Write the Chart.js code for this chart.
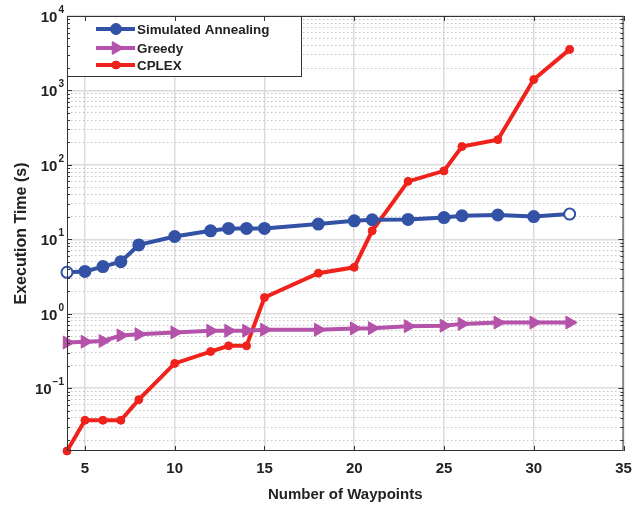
<!DOCTYPE html>
<html>
<head>
<meta charset="utf-8">
<script src="https://cdn.jsdelivr.net/npm/chart.js@4.4.1/dist/chart.umd.min.js"></script>
<style>
  html, body { margin: 0; padding: 0; background: #fff; }
  #wrap { width: 632px; height: 508px; }
</style>
</head>
<body>
<div id="wrap"><canvas id="lineChart" width="632" height="508"></canvas></div>
<script>
'use strict';

// waypoints on the x axis
const waypoints = [4, 5, 6, 7, 8, 10, 12, 13, 14, 15, 18, 20, 21, 23, 25, 26, 28, 30, 32];

// execution time (s)
const saTimes     = [3.6, 3.7, 4.3, 5.0, 8.4, 10.9, 13, 14, 14, 14, 16, 17.7, 18.3, 18.5, 19.6, 20.7, 21.2, 20.2, 21.8];
const greedyTimes = [0.41, 0.42, 0.43, 0.51, 0.53, 0.56, 0.59, 0.59, 0.59, 0.61, 0.61, 0.635, 0.64, 0.68, 0.69, 0.73, 0.76, 0.76, 0.76];
const cplexTimes  = [0.0143, 0.037, 0.037, 0.037, 0.070, 0.215, 0.31, 0.37, 0.37, 1.65, 3.5, 4.2, 13, 60, 83, 176, 218, 1400, 3560];

const xTicks = [5, 10, 15, 20, 25, 30, 35];
const yExponents = [-1, 0, 1, 2, 3, 4];
const yMin = 0.0143;
const yMax = 10000;

const BLUE = '#3352a6';
const MAGENTA = '#b552a9';
const RED = '#f0221c';
const FONT = '"Liberation Sans", Arial, Helvetica, sans-serif';

function toPts(ys) {
  return waypoints.map((x, i) => ({ x: x, y: ys[i] }));
}

function isDecade(v) {
  const l = Math.log10(v);
  return Math.abs(l - Math.round(l)) < 1e-9;
}

// 1..9 x 10^e for every decade in range
function buildLogTicks() {
  const out = [];
  for (let e = -2; e <= 4; e++) {
    for (let m = 1; m <= 9; m++) {
      const v = +(m * Math.pow(10, e)).toPrecision(6);
      if (v >= yMin && v <= yMax) out.push({ value: v, major: isDecade(v) });
    }
  }
  return out;
}

const saFill = saTimes.map((v, i) => (i === 0 || i === saTimes.length - 1) ? '#ffffff' : BLUE);

// legend drawn inside the plot, top-left
const boxLegend = {
  id: 'boxLegend',
  afterDatasetsDraw(chart) {
    const ctx = chart.ctx;
    const a = chart.chartArea;
    const x0 = a.left, y0 = a.top, w = 234, h = 60;
    ctx.save();
    ctx.fillStyle = '#fff';
    ctx.fillRect(x0, y0, w, h);
    ctx.strokeStyle = '#333';
    ctx.lineWidth = 1;
    ctx.strokeRect(x0 + 0.5, y0 + 0.5, w, h);
    const rows = [13, 32, 49];
    chart.data.datasets.forEach((ds, i) => {
      const y = y0 + rows[i];
      ctx.strokeStyle = ds.borderColor;
      ctx.lineWidth = ds.borderWidth;
      ctx.beginPath();
      ctx.moveTo(x0 + 29, y);
      ctx.lineTo(x0 + 68, y);
      ctx.stroke();
      ctx.fillStyle = ds.borderColor;
      ctx.strokeStyle = ds.borderColor;
      ctx.lineWidth = 1;
      Chart.helpers.drawPoint(ctx, {
        pointStyle: ds.pointStyle,
        radius: ds.pointRadius,
        rotation: ds.pointRotation || 0,
        borderWidth: 1
      }, x0 + 49, y);
      ctx.fillStyle = '#222';
      ctx.font = 'bold 13.4px ' + FONT;
      ctx.textBaseline = 'middle';
      ctx.textAlign = 'left';
      ctx.fillText(ds.label, x0 + 70, y + 1);
    });
    ctx.restore();
  }
};

// box outline, inward ticks and 10^n labels
const frame = {
  id: 'frame',
  afterDraw(chart) {
    const ctx = chart.ctx;
    const a = chart.chartArea;
    const xs = chart.scales.x, ys = chart.scales.y;
    ctx.save();
    ctx.strokeStyle = '#333';
    ctx.lineWidth = 1;
    ctx.strokeRect(a.left + 0.5, a.top + 0.5, a.right - a.left - 1, a.bottom - a.top - 1);
    ctx.beginPath();
    ys.ticks.forEach(t => {
      const py = Math.round(ys.getPixelForValue(t.value)) + 0.5;
      const len = t.major ? 5 : 3;
      ctx.moveTo(a.left, py); ctx.lineTo(a.left + len, py);
      ctx.moveTo(a.right, py); ctx.lineTo(a.right - len, py);
    });
    xTicks.forEach(v => {
      const px = Math.round(xs.getPixelForValue(v)) + 0.5;
      ctx.moveTo(px, a.top); ctx.lineTo(px, a.top + 5);
      ctx.moveTo(px, a.bottom); ctx.lineTo(px, a.bottom - 5);
    });
    ctx.stroke();

    ctx.fillStyle = '#222';
    ctx.textBaseline = 'alphabetic';
    yExponents.forEach(e => {
      const py = ys.getPixelForValue(Math.pow(10, e));
      const sup = String(e).replace('-', '\u2212');
      ctx.font = 'bold 10px ' + FONT;
      const sw = ctx.measureText(sup).width;
      ctx.textAlign = 'right';
      ctx.fillText(sup, a.left - 3, py - 3);
      ctx.font = 'bold 15px ' + FONT;
      ctx.fillText('10', a.left - 4 - sw, py + 6);
    });
    ctx.restore();
  }
};

const chartData = {
  datasets: [
    {
      label: 'Simulated Annealing',
      data: toPts(saTimes),
      borderColor: BLUE,
      backgroundColor: BLUE,
      pointBackgroundColor: saFill,
      pointBorderColor: BLUE,
      pointBorderWidth: 2,
      borderWidth: 4,
      pointStyle: 'circle',
      pointRadius: 5.5,
      clip: false
    },
    {
      label: 'Greedy',
      data: toPts(greedyTimes),
      borderColor: MAGENTA,
      backgroundColor: MAGENTA,
      borderWidth: 4,
      pointStyle: 'triangle',
      pointRotation: 90,
      pointRadius: 7.5,
      pointBorderWidth: 1,
      clip: false
    },
    {
      label: 'CPLEX',
      data: toPts(cplexTimes),
      borderColor: RED,
      backgroundColor: RED,
      borderWidth: 4,
      pointStyle: 'circle',
      pointRadius: 4,
      pointBorderWidth: 1,
      clip: false
    }
  ]
};

const chartOptions = {
  responsive: false,
  animation: false,
  events: [],
  layout: { padding: { top: 16, right: 8, left: 0, bottom: 0 } },
  plugins: {
    legend: { display: false },
    tooltip: { enabled: false }
  },
  scales: {
    x: {
      type: 'linear',
      min: 4,
      max: 35,
      afterBuildTicks: s => { s.ticks = xTicks.map(v => ({ value: v })); },
      afterFit: s => { s.height = 57; s.paddingLeft = 0; s.paddingRight = 0; },
      grid: { color: '#dcdcdc', lineWidth: 1.5, drawTicks: false },
      border: { display: false },
      ticks: {
        padding: 9,
        color: '#222',
        font: { family: FONT, size: 15, weight: 'bold' },
        maxRotation: 0
      },
      title: {
        display: true,
        text: 'Number of Waypoints',
        color: '#222',
        font: { family: FONT, size: 15, weight: 'bold' },
        padding: { top: 0, bottom: 4 }
      }
    },
    y: {
      type: 'logarithmic',
      min: yMin,
      max: yMax,
      afterBuildTicks: s => { s.ticks = buildLogTicks(); },
      afterFit: s => { s.width = 67; s.paddingTop = 0; s.paddingBottom = 0; },
      grid: {
        drawTicks: false,
        color: c => (c.tick && c.tick.major) ? '#dcdcdc' : '#c4c4c4',
        lineWidth: c => (c.tick && c.tick.major) ? 1.5 : 1
      },
      border: {
        display: false,
        dash: c => (c.tick && !c.tick.major) ? [1.5, 2.5] : []
      },
      ticks: { display: false, autoSkip: false },
      title: {
        display: true,
        text: 'Execution Time (s)',
        color: '#222',
        font: { family: FONT, size: 16, weight: 'bold' },
        padding: { top: 12, bottom: 0 }
      }
    }
  }
};

new Chart(document.getElementById('lineChart').getContext('2d'), {
  type: 'line',
  data: chartData,
  options: chartOptions,
  plugins: [boxLegend, frame]
});
</script>
</body>
</html>
